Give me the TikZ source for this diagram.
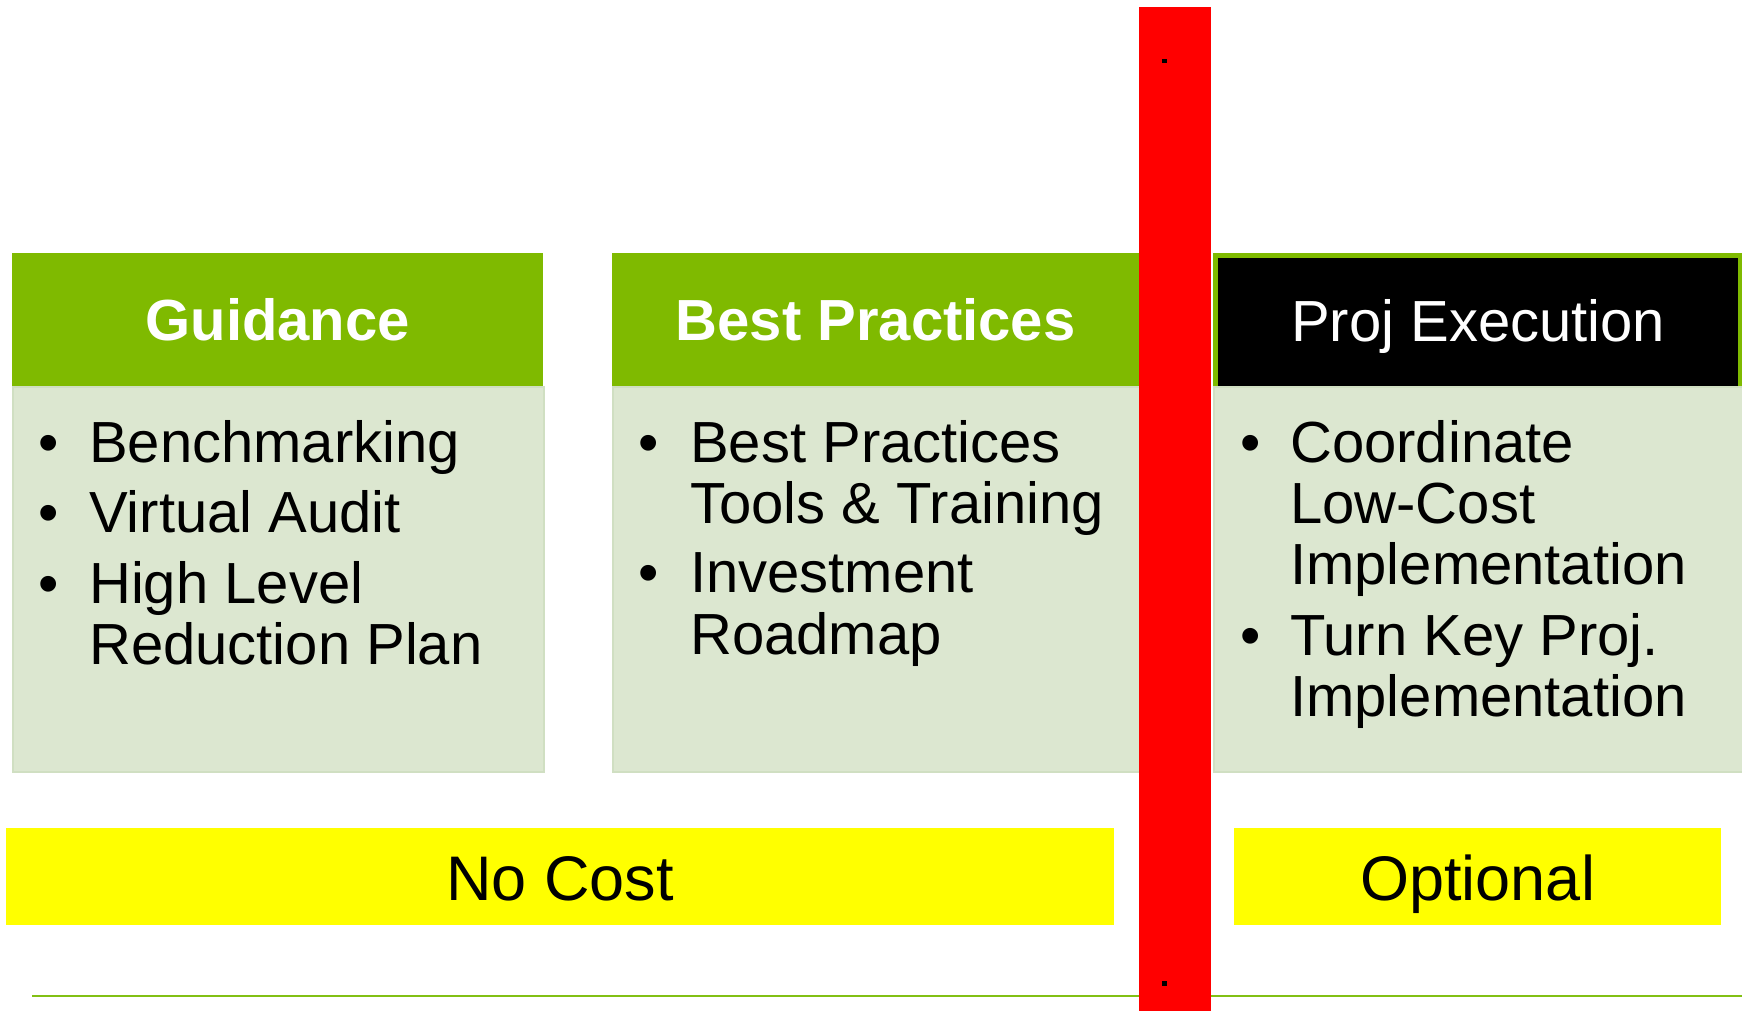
\documentclass[tikz,border=0pt]{standalone}
\usepackage{fontspec}
\setmainfont{Liberation Sans}
\definecolor{hdrgreen}{RGB}{127,186,0}
\definecolor{bodygreen}{RGB}{220,231,208}
\definecolor{bodyedge}{RGB}{208,223,194}
\definecolor{barred}{RGB}{255,0,0}
\definecolor{tagyellow}{RGB}{255,255,0}
\definecolor{linegreen}{RGB}{130,192,20}
\begin{document}
\begin{tikzpicture}[x=1pt,y=-1pt,
  hdr/.style={fill=hdrgreen, draw=none, anchor=north west, inner sep=0pt,
    text=white, font=\fontsize{58}{61}\selectfont\bfseries,
    text height=41pt, text depth=0pt, minimum height=133pt},
  bodybox/.style={fill=bodygreen, draw=bodyedge, line width=1.5pt, anchor=north west,
    inner sep=0pt, minimum height=385pt},
  item/.style={anchor=base west, inner sep=0pt,
    font=\fontsize{58}{61}\selectfont, text=black},
  bul/.style={anchor=base, inner sep=0pt, font=\fontsize{58}{61}\selectfont, text=black},
  tag/.style={fill=tagyellow, draw=none, anchor=north west, inner sep=0pt,
    font=\fontsize{63}{66}\selectfont, text=black,
    text height=47pt, text depth=0pt, minimum height=97pt}
]
\useasboundingbox (0,0) rectangle (1742,1011);

% Guidance column
\node[bodybox, minimum width=531pt] (gbody) at (12,386) {};
\node[hdr, minimum width=531pt] (ghead) at (12,253) {Guidance};
\node[bul] (gb1) at (49,462) {•};
\node[item] (g1) at (89,462) {Benchmarking};
\node[bul] (gb2) at (49,532) {•};
\node[item] (g2) at (89,532) {Virtual Audit};
\node[bul] (gb3) at (49,603) {•};
\node[item] (g3) at (89,603) {High Level};
\node[item] (g3b) at (89,664) {Reduction Plan};

% Best Practices column
\node[bodybox, minimum width=527pt] (bbody) at (612,386) {};
\node[hdr, minimum width=527pt] (bhead) at (612,253) {Best Practices};
\node[bul] (bb1) at (649,462) {•};
\node[item] (b1) at (690,462) {Best Practices};
\node[item] (b1b) at (690,523) {Tools \& Training};
\node[bul] (bb2) at (649,592) {•};
\node[item] (b2) at (690,592) {Investment};
\node[item] (b2b) at (690,654) {Roadmap};

% Proj Execution column
\node[bodybox, minimum width=529pt] (pbody) at (1213,386) {};
\node[hdr, minimum width=529pt] (pframe) at (1213,253) {};
\node[fill=black, anchor=north west, inner sep=0pt, minimum width=520pt,
  minimum height=128pt, text=white, font=\fontsize{58}{61}\selectfont,
  text height=38pt, text depth=0pt] (phead) at (1218,258) {Proj Execution};
\node[bul] (pb1) at (1251,462) {•};
\node[item] (p1) at (1290,462) {Coordinate};
\node[item] (p1b) at (1290,523) {Low-Cost};
\node[item] (p1c) at (1290,584) {Implementation};
\node[bul] (pb2) at (1251,655) {•};
\node[item] (p2) at (1290,655) {Turn Key Proj.};
\node[item] (p2b) at (1290,716) {Implementation};

% Yellow tags
\node[tag, minimum width=1108pt] (nocost) at (6,828) {No Cost};
\node[tag, minimum width=487pt] (optional) at (1234,828) {Optional};

% Green baseline
\coordinate (lineL) at (32,996);
\coordinate (lineR) at (1742,996);
\draw[linegreen, line width=2.5pt] (lineL) -- (lineR);

% Red divider bar
\fill[barred] (1139,7) rectangle (1211,1011);
\fill[black] (1162,59) rectangle (1167,63);
\fill[black] (1162,981) rectangle (1167,986);
\end{tikzpicture}
\end{document}
